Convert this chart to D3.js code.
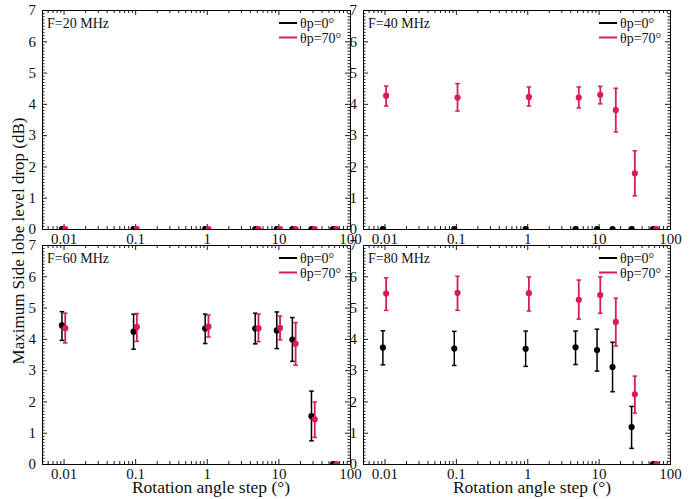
<!DOCTYPE html>
<html><head><meta charset="utf-8">
<script src="https://cdn.jsdelivr.net/npm/d3@7"></script>
<style>body{margin:0;background:#fff}svg{display:block}svg text{font-family:'Liberation Serif','Times New Roman',Times,serif !important}</style>
</head><body>
<script>
const steps = [0.01, 0.1, 1, 5, 10, 16.5, 30.5, 61];
const panelTitles = ["F=20 MHz", "F=40 MHz", "F=60 MHz", "F=80 MHz"];
const seriesNames = ["θp=0°", "θp=70°"];
const xTickLabels = ["0.01", "0.1", "1", "10", "100"];
const yTickLabels = ["0", "1", "2", "3", "4", "5", "6", "7"];

// F=20 MHz
const f20_p0_mean = [0, 0, 0, 0, 0, 0, 0, 0];
const f20_p0_lo   = [0, 0, 0, 0, 0, 0, 0, 0];
const f20_p0_hi   = [0, 0, 0, 0, 0, 0, 0, 0];
const f20_p70_mean = [0, 0, 0, 0, 0, 0, 0, 0];
const f20_p70_lo   = [0, 0, 0, 0, 0, 0, 0, 0];
const f20_p70_hi   = [0, 0, 0, 0, 0, 0, 0, 0];
// F=40 MHz
const f40_p0_mean = [0, 0, 0, 0, 0, 0, 0, 0];
const f40_p0_lo   = [0, 0, 0, 0, 0, 0, 0, 0];
const f40_p0_hi   = [0, 0, 0, 0, 0, 0, 0, 0];
const f40_p70_mean = [4.26, 4.20, 4.22, 4.20, 4.29, 3.80, 1.78, 0];
const f40_p70_lo   = [3.93, 3.77, 3.93, 3.87, 4.00, 3.10, 1.06, 0];
const f40_p70_hi   = [4.57, 4.65, 4.54, 4.54, 4.56, 4.50, 2.50, 0];
// F=60 MHz
const f60_p0_mean = [4.43, 4.23, 4.33, 4.33, 4.27, 3.98, 1.53, 0];
const f60_p0_lo   = [3.95, 3.67, 3.85, 3.84, 3.69, 3.28, 0.74, 0];
const f60_p0_hi   = [4.87, 4.79, 4.79, 4.82, 4.86, 4.68, 2.33, 0];
const f60_p70_mean = [4.34, 4.38, 4.39, 4.34, 4.35, 3.84, 1.43, 0];
const f60_p70_lo   = [3.87, 3.92, 4.06, 3.91, 3.97, 3.16, 0.85, 0];
const f60_p70_hi   = [4.82, 4.81, 4.76, 4.79, 4.73, 4.52, 1.98, 0];
// F=80 MHz
const f80_p0_mean = [3.72, 3.69, 3.68, 3.73, 3.64, 3.10, 1.18, 0];
const f80_p0_lo   = [3.17, 3.15, 3.12, 3.18, 2.97, 2.31, 0.50, 0];
const f80_p0_hi   = [4.26, 4.24, 4.25, 4.25, 4.31, 3.89, 1.84, 0];
const f80_p70_mean = [5.45, 5.47, 5.46, 5.25, 5.40, 4.54, 2.23, 0];
const f80_p70_lo   = [4.91, 4.91, 4.89, 4.63, 4.82, 3.77, 1.63, 0];
const f80_p70_hi   = [5.95, 6.00, 5.98, 5.88, 5.98, 5.30, 2.81, 0];

const panelData = [
  [[f20_p0_mean, f20_p0_lo, f20_p0_hi], [f20_p70_mean, f20_p70_lo, f20_p70_hi]],
  [[f40_p0_mean, f40_p0_lo, f40_p0_hi], [f40_p70_mean, f40_p70_lo, f40_p70_hi]],
  [[f60_p0_mean, f60_p0_lo, f60_p0_hi], [f60_p70_mean, f60_p70_lo, f60_p70_hi]],
  [[f80_p0_mean, f80_p0_lo, f80_p0_hi], [f80_p70_mean, f80_p70_lo, f80_p70_hi]]
];

const colors = ["#000000", "#d81b5c"];
const dodge = [0.95, 1.055];
const W = 698, H = 499;
const FONT = "'Liberation Serif','Times New Roman',Times,serif";
const boxes = [
  {x0: 42, x1: 350, y0: 10, y1: 229},
  {x0: 363, x1: 670, y0: 10, y1: 229},
  {x0: 42, x1: 350, y0: 245, y1: 464},
  {x0: 363, x1: 670, y0: 245, y1: 464}
];

const svg = d3.select("body").append("svg").attr("width", W).attr("height", H).attr("font-family", FONT);
const defs = svg.append("defs");

const minorX = [];
[0.001, 0.01, 0.1, 1, 10].forEach(d => { for (let k = 2; k <= 9; k++) { const v = d * k; if (v > 0.0051 && v < 99) minorX.push(v); } });
const majorX = xTickLabels.map(Number);
const majorY = yTickLabels.map(Number);
const minorY = d3.range(0, 70).map(i => i / 10).filter(v => Math.abs(v - Math.round(v)) > 1e-6);

boxes.forEach((b, pi) => {
  const x = d3.scaleLog().domain([0.005, 100]).range([b.x0, b.x1]);
  const y = d3.scaleLinear().domain([0, 7]).range([b.y1, b.y0]);
  const g = svg.append("g");

  const clipId = "clip" + pi;
  defs.append("clipPath").attr("id", clipId).append("rect")
    .attr("x", b.x0).attr("y", b.y0).attr("width", b.x1 - b.x0).attr("height", b.y1 - b.y0);

  g.append("g").attr("transform", `translate(0,${b.y1})`)
    .call(d3.axisBottom(x).tickValues(majorX).tickSize(-5).tickPadding(4).tickFormat((d, i) => xTickLabels[i]));
  g.append("g").attr("transform", `translate(0,${b.y1})`)
    .call(d3.axisBottom(x).tickValues(minorX).tickSize(-3).tickFormat(""));
  g.append("g").attr("transform", `translate(0,${b.y0})`)
    .call(d3.axisTop(x).tickValues(majorX).tickSize(-5).tickFormat(""));
  g.append("g").attr("transform", `translate(0,${b.y0})`)
    .call(d3.axisTop(x).tickValues(minorX).tickSize(-3).tickFormat(""));
  g.append("g").attr("transform", `translate(${b.x0},0)`)
    .call(d3.axisLeft(y).tickValues(majorY).tickSize(-5).tickPadding(6).tickFormat((d, i) => yTickLabels[i]));
  g.append("g").attr("transform", `translate(${b.x0},0)`)
    .call(d3.axisLeft(y).tickValues(minorY).tickSize(-2.5).tickFormat(""));
  g.append("g").attr("transform", `translate(${b.x1},0)`)
    .call(d3.axisRight(y).tickValues(majorY).tickSize(-5).tickFormat(""));
  g.append("g").attr("transform", `translate(${b.x1},0)`)
    .call(d3.axisRight(y).tickValues(minorY).tickSize(-2.5).tickFormat(""));

  g.selectAll("g").attr("font-family", FONT);
  g.selectAll(".domain").attr("stroke", "#000").attr("stroke-width", 1);
  g.selectAll(".tick line").attr("stroke", "#000").attr("stroke-width", 0.9);
  g.selectAll(".tick text").attr("font-size", 15).attr("fill", "#111");

  const dg = g.append("g").attr("clip-path", `url(#${clipId})`);
  panelData[pi].forEach((s, si) => {
    const [mean, lo, hi] = s;
    const pts = steps.map((st, i) => ({xv: st * dodge[si], m: mean[i], lo: lo[i], hi: hi[i]}));
    const sg = dg.append("g").attr("stroke", colors[si]).attr("fill", colors[si]);
    const bars = pts.filter(p => p.hi - p.lo > 0);
    sg.selectAll("line.v").data(bars).join("line").attr("class", "v")
      .attr("x1", p => x(p.xv)).attr("x2", p => x(p.xv))
      .attr("y1", p => y(p.lo)).attr("y2", p => y(p.hi)).attr("stroke-width", si ? 1.8 : 1.5);
    ["lo", "hi"].forEach(k => {
      sg.selectAll("line.c" + k).data(bars).join("line").attr("class", "c" + k)
        .attr("x1", p => x(p.xv) - 2.3).attr("x2", p => x(p.xv) + 2.3)
        .attr("y1", p => y(p[k])).attr("y2", p => y(p[k])).attr("stroke-width", 1.5);
    });
    sg.selectAll("circle").data(pts).join("circle")
      .attr("cx", p => x(p.xv)).attr("cy", p => y(p.m)).attr("r", 3.1).attr("stroke", "none");
  });

  g.append("text").attr("x", b.x0 + 5).attr("y", b.y0 + 18).attr("font-size", 14).attr("fill", "#111").text(panelTitles[pi]);

  seriesNames.forEach((nm, si) => {
    const ly = b.y0 + 13 + si * 14.5;
    g.append("line").attr("x1", b.x1 - 71).attr("x2", b.x1 - 53).attr("y1", ly).attr("y2", ly)
      .attr("stroke", colors[si]).attr("stroke-width", 2);
    g.append("text").attr("x", b.x1 - 50).attr("y", ly + 5).attr("font-size", 14).attr("fill", "#111").text(nm);
  });
});

svg.append("text").attr("x", 211).attr("y", 493).attr("text-anchor", "middle").attr("font-size", 17.5).attr("fill", "#111").text("Rotation angle step (°)");
svg.append("text").attr("x", 532).attr("y", 493).attr("text-anchor", "middle").attr("font-size", 17.5).attr("fill", "#111").text("Rotation angle step (°)");
svg.append("text").attr("transform", "translate(24,241) rotate(-90)").attr("text-anchor", "middle").attr("font-size", 17).attr("fill", "#111").text("Maximum Side lobe level drop (dB)");
</script>
</body></html>
